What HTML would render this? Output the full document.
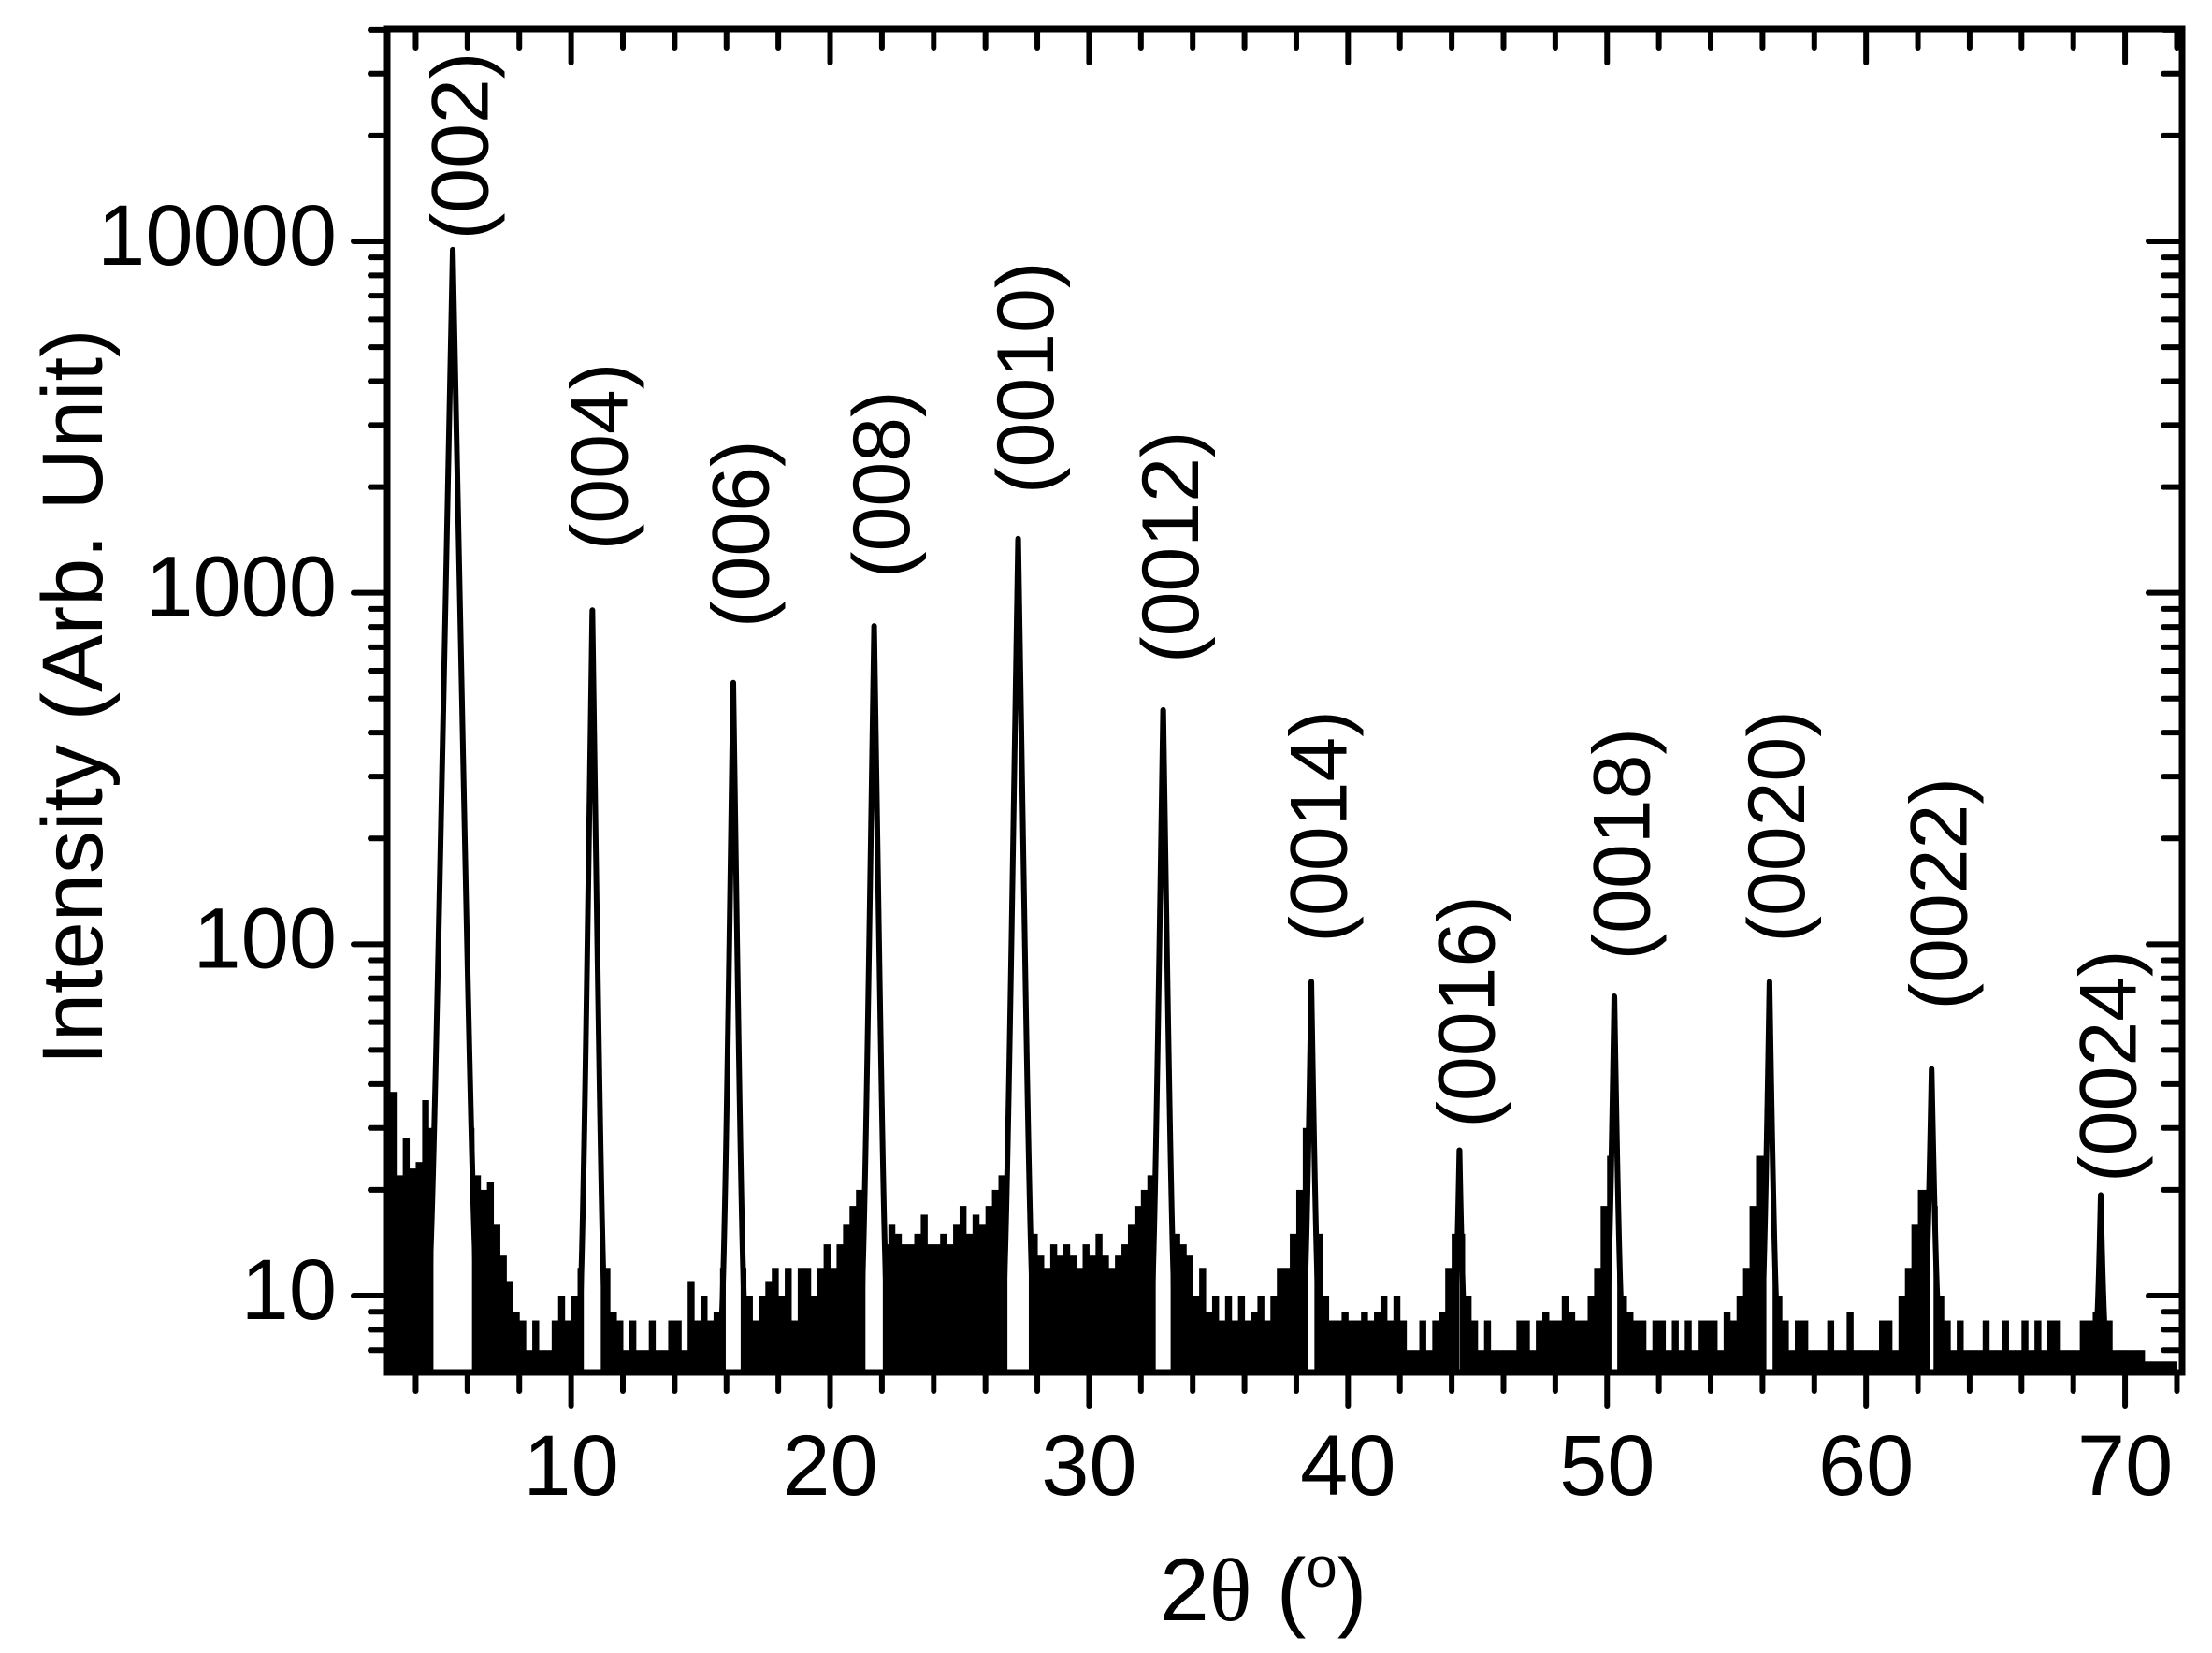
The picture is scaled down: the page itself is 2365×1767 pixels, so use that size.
<!DOCTYPE html>
<html><head><meta charset="utf-8"><style>
html,body{margin:0;padding:0;background:#fff;}
svg{display:block;font-family:"Liberation Sans",Arial,sans-serif;}
</style></head><body>
<svg id="chart" width="2365" height="1767" viewBox="0 0 2365 1767" xmlns="http://www.w3.org/2000/svg">
<g id="bars"></g>
<g id="peaks"></g>
<g id="axes"></g>
<g id="labels"></g>
<text transform="translate(78,745) rotate(-90)" text-anchor="middle" dominant-baseline="central" font-size="92">Intensity (Arb. Unit)</text>
<text x="1240" y="1732" font-size="95">2<tspan font-family="Liberation Serif, serif">θ</tspan> (<tspan dy="-36" font-size="60">o</tspan><tspan dy="36">)</tspan></text>
</svg>
<script>
const bgStart = 3.0;
const bgStep = 0.25;
const bgValues = [
38,22,28,23,24,36,30,37, 25,25,25,25, 30,22,20,21,16,13,11,9,
8.5,7,8.5,7,7,8.5,10,8.5, 10,12,15,12,12,12,9,8.5, 7,8.5,7,7,8.5,7,7,8.5,
8.5,7,11,8.5,10,8.5,9,12, 14,13,12,10,8.5,10,11,12, 10,12,8.5,12,12,10,12,14,
12,14,16,18,20,16,14,15, 14,16,15,14,14,15,17,14, 14,15,14,16,18,15,17,16,
18,20,22,25,25,22,18,15, 13,12,14,13,14,13,12,14, 13,15,13,12,13,14,16,18,
20,22,25,25,18,15,14,13, 10,12,9,10,8.5,10,8.5,10, 8.5,9,10,8.5,10,12,12,15,
20,30,30,15,10,8.5,8.5,9, 8.5,8.5,9,8.5,9,10,8.5,10, 8.5,7,7,8.5,7,8.5,9,12,
15,15,10,8.5,7,8.5,7,7, 7,7,8.5,8.5,7,8.5,9,8.5, 8.5,10,9,8.5,8.5,10,12,18,
25,20,10,9,8.5,8.5,7,8.5, 8.5,7,8.5,7,8.5,7,8.5,8.5, 8.5,7,9,8.5,10,12,18,25,
25,18,10,8.5,7,8.5,8.5,7, 7,7,8.5,7,7,9,7,7, 7,7,8.5,8.5,7,10,12,16,
20,20,18,10,8.5,7,8.5,7, 7,7,8.5,7,7,8.5,7,7, 8.5,7,8.5,7,8.5,8.5,7,7,
7,8.5,8.5,9,10,8.5,7,7, 7,7,7,6.5,6.5,6.5,6.5,6.5];
const peakPos = [5.43,10.82,16.26,21.7,27.26,32.86,38.58,44.3,50.28,56.27,62.53,69.06];
const peakHeight = [9500,900,560,800,1450,470,73,21,67,73,39,14];
const peakWidth = [0.12,0.085,0.085,0.09,0.095,0.09,0.09,0.09,0.09,0.09,0.1,0.09];
const peakNames = ["(002)","(004)","(006)","(008)","(0010)","(0012)","(0014)","(0016)","(0018)","(0020)","(0022)","(0024)"];
const labelBottom = [10100,1320,795,1100,1910,630,101,30,90,101,65,21];
const xTicks = [10,20,30,40,50,60,70];
const yTicks = [10,100,1000,10000];

const L=414,R=2333,T=31,B=1467;
const XMIN=2.9,XMAX=72.2,YMIN=6.05,YMAX=40200;
const xs=v=>L+(v-XMIN)/(XMAX-XMIN)*(R-L);
const ys=v=>B-(Math.log10(v)-Math.log10(YMIN))/(Math.log10(YMAX)-Math.log10(YMIN))*(B-T);
const NS="http://www.w3.org/2000/svg";
function mk(tag,attrs,parent){const e=document.createElementNS(NS,tag);for(const k in attrs)e.setAttribute(k,attrs[k]);parent.appendChild(e);return e;}

const gb=document.getElementById('bars');
bgValues.forEach((v,i)=>{
  const x0=xs(bgStart+i*bgStep), x1=xs(bgStart+(i+1)*bgStep);
  const r=mk('rect',{x:x0,y:ys(v),width:Math.min(x1,R)-x0+0.5,height:B-ys(v),fill:'#000'},gb);
  
  
});

const gp=document.getElementById('peaks');
peakPos.forEach((p,i)=>{
  const H=peakHeight[i], s=peakWidth[i];
  const w=s*Math.log(H/1.5);
  let pts=[],inner=[];
  for(let dx=-w;dx<=w+1e-9;dx+=0.005){
    const v=Math.max(YMIN,H*Math.exp(-Math.abs(dx)/s)+5.5);
    const pt=[xs(p+dx),ys(v)];
    pts.push(pt);
    if(v>24)inner.push(pt);
  }
  if(inner.length){
    const poly=[[inner[0][0],B]].concat(inner,[[inner[inner.length-1][0],B]]);
    const f=mk('polygon',{points:poly.map(q=>q.join(',')).join(' '),fill:'#fff'},gp);
    
    
  }
  const pl=mk('polyline',{points:pts.map(q=>q.join(',')).join(' '),fill:'none',stroke:'#000','stroke-width':6,'stroke-linejoin':'round'},gp);
  
  
});

const gl=document.getElementById('labels');
peakNames.forEach((n,i)=>{
  const x=xs(peakPos[i]+0.3), y=ys(labelBottom[i]);
  const t=mk('text',{transform:`translate(${x},${y}) rotate(-90)`,'dominant-baseline':'central','font-size':86},gl);
  t.textContent=n;
  
  
});

const ga=document.getElementById('axes');
const fr=mk('rect',{x:L,y:T,width:R-L,height:B-T,fill:'none',stroke:'#000','stroke-width':7},ga);


const tk={stroke:'#000','stroke-width':6,'stroke-linecap':'round'};
for(let v=4;v<=72;v+=2){
  const x=xs(v), maj=(v%10===0), len=maj?36:20;
  const a=mk('line',Object.assign({x1:x,y1:B,x2:x,y2:B+len},tk),ga);
  
  
  const b=mk('line',Object.assign({x1:x,y1:T,x2:x,y2:T+len},tk),ga);
  
  
}
xTicks.forEach(v=>{
  const t=mk('text',{x:xs(v),y:1598,'text-anchor':'middle','font-size':92},ga);
  t.textContent=v;
  
  
});
for(let d=0;d<=4;d++){
  for(let m=1;m<=9;m++){
    const v=m*Math.pow(10,d);
    if(v<YMIN||v>YMAX)continue;
    const y=ys(v), maj=(m===1), len=maj?36:18;
    const a=mk('line',Object.assign({x1:L,y1:y,x2:L-len,y2:y},tk),ga);
    
    
    const b=mk('line',Object.assign({x1:R,y1:y,x2:R-(maj?36:20),y2:y},tk),ga);
    
    
  }
}
yTicks.forEach(v=>{
  const t=mk('text',{x:360,y:ys(v)+25,'text-anchor':'end','font-size':92},ga);
  t.textContent=v;
  
  
});
</script>
</body></html>
